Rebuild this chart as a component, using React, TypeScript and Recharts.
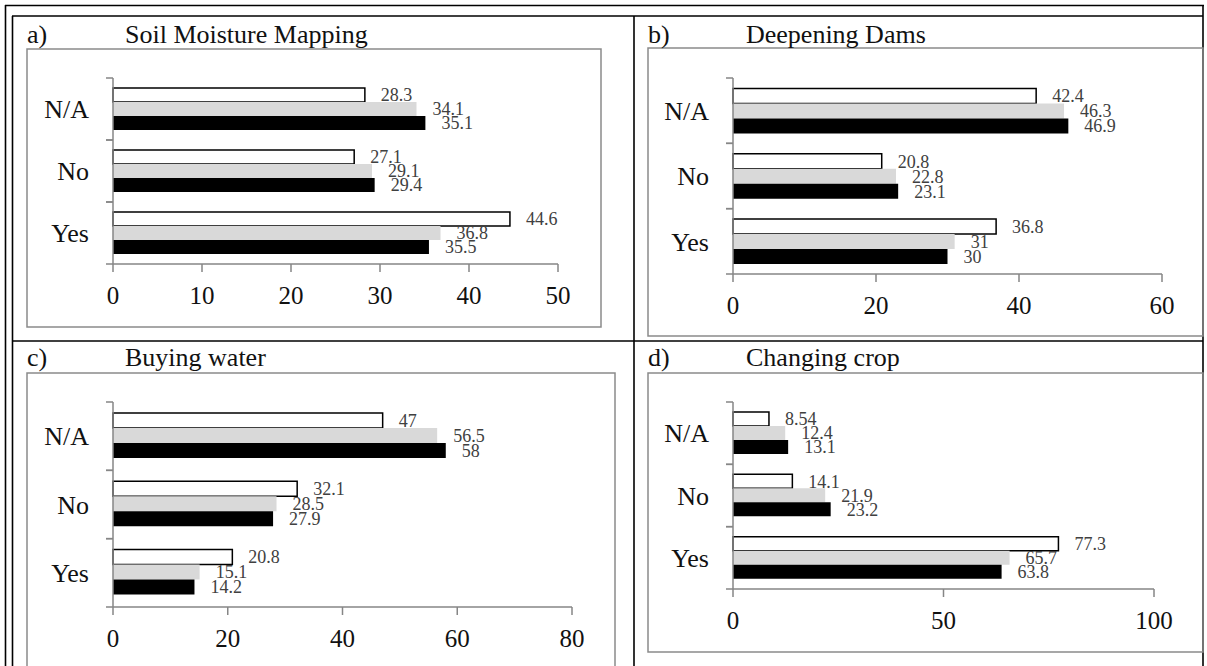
import { Bar, BarChart, LabelList, XAxis, YAxis } from "recharts";

const SERIF = '"Liberation Serif", "Times New Roman", serif';

const categories = ["N/A", "No", "Yes"];

// a) Soil Moisture Mapping
const soilWhite = [28.3, 27.1, 44.6];
const soilGray = [34.1, 29.1, 36.8];
const soilBlack = [35.1, 29.4, 35.5];
const soilTicks = [0, 10, 20, 30, 40, 50];

// b) Deepening Dams
const damsWhite = [42.4, 20.8, 36.8];
const damsGray = [46.3, 22.8, 31];
const damsBlack = [46.9, 23.1, 30];
const damsTicks = [0, 20, 40, 60];

// c) Buying water
const waterWhite = [47, 32.1, 20.8];
const waterGray = [56.5, 28.5, 15.1];
const waterBlack = [58, 27.9, 14.2];
const waterTicks = [0, 20, 40, 60, 80];

// d) Changing crop
const cropWhite = [8.54, 14.1, 77.3];
const cropGray = [12.4, 21.9, 65.7];
const cropBlack = [13.1, 23.2, 63.8];
const cropTicks = [0, 50, 100];

type Box = { x: number; y: number; w: number; h: number };
type Plot = { x0: number; x1: number; y0: number; y1: number };

const panels = [
  {
    letter: "a)",
    title: "Soil Moisture Mapping",
    white: soilWhite,
    gray: soilGray,
    black: soilBlack,
    ticks: soilTicks,
    box: { x: 27, y: 49, w: 574, h: 278 },
    plot: { x0: 113, x1: 558, y0: 78, y1: 264 },
    titleY: 43,
  },
  {
    letter: "b)",
    title: "Deepening Dams",
    white: damsWhite,
    gray: damsGray,
    black: damsBlack,
    ticks: damsTicks,
    box: { x: 648, y: 48, w: 555, h: 288 },
    plot: { x0: 733, x1: 1162, y0: 78, y1: 274 },
    titleY: 43,
  },
  {
    letter: "c)",
    title: "Buying water",
    white: waterWhite,
    gray: waterGray,
    black: waterBlack,
    ticks: waterTicks,
    box: { x: 27, y: 373, w: 588, h: 300 },
    plot: { x0: 113, x1: 572, y0: 402, y1: 607 },
    titleY: 366,
  },
  {
    letter: "d)",
    title: "Changing crop",
    white: cropWhite,
    gray: cropGray,
    black: cropBlack,
    ticks: cropTicks,
    box: { x: 648, y: 373, w: 555, h: 279 },
    plot: { x0: 733, x1: 1154, y0: 402, y1: 589 },
    titleY: 366,
  },
];

const TICK_GAP = 24;
const TICK_LEN = 7;

function CatTick(props: any) {
  const { x, y, payload, band } = props;
  const off = payload?.offset ?? band / 2;
  const ax = x + TICK_GAP;
  return (
    <g>
      <line x1={ax - TICK_LEN} x2={ax} y1={y - off} y2={y - off} stroke="#868686" strokeWidth={1.5} />
      <line x1={ax - TICK_LEN} x2={ax} y1={y + off} y2={y + off} stroke="#868686" strokeWidth={1.5} />
      <text x={x} y={y} dy="0.355em" textAnchor="end" fill="#111" fontSize={26} fontFamily={SERIF}>
        {payload.value}
      </text>
    </g>
  );
}

function Panel({ p }: { p: (typeof panels)[number] }) {
  const box: Box = p.box;
  const plot: Plot = p.plot;
  const rows = categories.map((name, i) => ({
    name,
    white: p.white[i],
    gray: p.gray[i],
    black: p.black[i],
  }));
  const yAxisW = plot.x0 - box.x;
  const xAxisH = box.y + box.h - plot.y1;
  const band = (plot.y1 - plot.y0) / categories.length;
  const label = { fill: "#404040", fontSize: 18, fontFamily: SERIF };
  return (
    <div style={{ position: "absolute", left: box.x, top: box.y, width: box.w, height: box.h }}>
      <BarChart
        width={box.w}
        height={box.h}
        data={rows}
        layout="vertical"
        margin={{ top: plot.y0 - box.y, right: box.x + box.w - plot.x1, bottom: 0, left: 0 }}
        barCategoryGap="16%"
        barGap={0}
      >
        <XAxis
          type="number"
          domain={[0, p.ticks[p.ticks.length - 1]]}
          ticks={p.ticks}
          interval={0}
          height={xAxisH}
          tickSize={8}
          tickMargin={14}
          axisLine={{ stroke: "#868686", strokeWidth: 1.5 }}
          tickLine={{ stroke: "#868686", strokeWidth: 1.5 }}
          tick={{ fill: "#111", fontSize: 25, fontFamily: SERIF }}
        />
        <YAxis
          type="category"
          dataKey="name"
          width={yAxisW}
          tickSize={0}
          tickMargin={TICK_GAP}
          tickLine={false}
          interval={0}
          axisLine={{ stroke: "#868686", strokeWidth: 1.5 }}
          tick={(t: any) => <CatTick {...t} band={band} />}
        />
        <Bar dataKey="white" fill="#ffffff" stroke="#000" strokeWidth={1.5} isAnimationActive={false}>
          <LabelList dataKey="white" position="right" offset={16} {...label} />
        </Bar>
        <Bar dataKey="gray" fill="#d9d9d9" isAnimationActive={false}>
          <LabelList dataKey="gray" position="right" offset={16} {...label} />
        </Bar>
        <Bar dataKey="black" fill="#000000" isAnimationActive={false}>
          <LabelList dataKey="black" position="right" offset={16} {...label} />
        </Bar>
      </BarChart>
    </div>
  );
}

export default function App() {
  return (
    <div
      style={{
        position: "fixed",
        left: 0,
        top: 0,
        width: 1207,
        height: 666,
        overflow: "hidden",
        background: "#fff",
      }}
    >
      <svg width={1207} height={666} style={{ position: "absolute", left: 0, top: 0 }}>
        {/* table borders */}
        <g stroke="#000" strokeWidth={1.6}>
          <line x1={5} x2={1204} y1={5.5} y2={5.5} />
          <line x1={12} x2={1203} y1={16} y2={16} />
          <line x1={5.5} x2={5.5} y1={5} y2={666} />
          <line x1={12.5} x2={12.5} y1={16} y2={666} />
          <line x1={1203} x2={1203} y1={5} y2={666} />
          <line x1={12} x2={1203} y1={341} y2={341} />
          <line x1={634} x2={634} y1={16} y2={666} />
        </g>
        {panels.map((p) => (
          <g key={p.letter}>
            <rect
              x={p.box.x}
              y={p.box.y}
              width={p.box.w}
              height={p.box.h}
              fill="none"
              stroke="#8a8a8a"
              strokeWidth={1.5}
            />
            <text x={p.box.x} y={p.titleY} fontSize={26} fontFamily={SERIF} fill="#111">
              {p.letter}
            </text>
            <text x={p.box.x + 98} y={p.titleY} fontSize={26} fontFamily={SERIF} fill="#111">
              {p.title}
            </text>
          </g>
        ))}
      </svg>
      {panels.map((p) => (
        <Panel key={p.letter} p={p} />
      ))}
    </div>
  );
}
